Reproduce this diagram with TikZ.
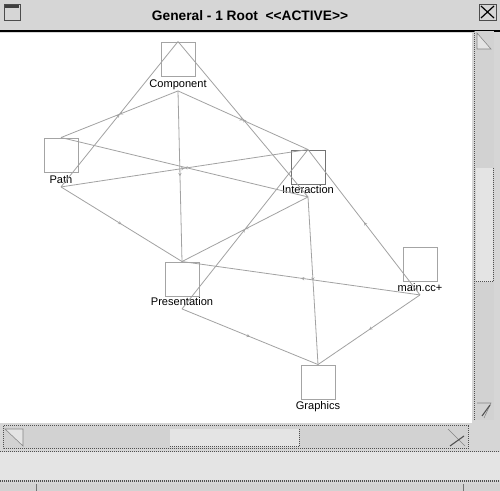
\documentclass[tikz,border=0pt]{standalone}
\usepackage{fontspec}
\setmainfont{Liberation Sans}
\usetikzlibrary{arrows.meta,decorations.markings}
\definecolor{wingray}{HTML}{D6D6D6}
\definecolor{panelgray}{HTML}{E4E4E4}
\definecolor{troughgray}{HTML}{D2D2D2}
\definecolor{boxgray}{HTML}{A4A4A4}
\definecolor{edgegray}{HTML}{A2A2A2}
\definecolor{rimgray}{HTML}{505050}
\tikzset{
  box/.style={draw=boxgray, fill=white, minimum size=25.5pt, inner sep=0pt, line width=0.7pt},
  lbl/.style={font=\fontsize{8.3}{10}\selectfont, inner sep=1pt, text height=6.3pt, text depth=1.7pt},
  call/.style={draw=edgegray, line width=0.6pt, postaction={decorate},
    decoration={markings, mark=at position 0.5 with {\arrow{Stealth[length=2.5pt,width=2.5pt,open]}}}},
  dotrim/.style={draw=rimgray, dash pattern=on 0.75pt off 0.75pt, line width=0.75pt}
}
\begin{document}
\begin{tikzpicture}[x=0.75pt,y=-0.75pt]
\useasboundingbox (0,0) rectangle (500,491);
\fill[wingray] (0,0) rectangle (500,491);

% title bar
\node[font=\bfseries\fontsize{10.3}{12}\selectfont] (title) at (250,16) {General - 1 Root \ <{}<ACTIVE>{}>};
\draw[line width=1pt] (0,31) -- (500,31);
\draw[fill=wingray, draw=black!70] (4,4) rectangle (20,20);
\draw[fill=black!75, draw=none] (5,5) rectangle (19,8);
\draw[draw=black!70] (479,4) rectangle (496,20);
\draw[line width=0.9pt] (481,6) -- (494,18) (494,6) -- (481,18);

% canvas
\fill[white] (0,33) rectangle (472,423);

% vertical scrollbar
\fill[troughgray] (474,31) rectangle (494,420);
\draw[dotrim] (474,31) -- (474,420);
\draw[fill=panelgray, draw=rimgray!70] (477,33) -- (491,49) -- (477,49) -- cycle;
\fill[panelgray] (476,168) rectangle (493,282);
\draw[dotrim] (493,168) -- (493,282) -- (476,282);
\draw[draw=rimgray!70] (477,403) -- (491,403) -- (484,418);
\draw[rimgray, line width=0.8pt] (482,416) -- (490,405);

% horizontal scrollbar
\fill[troughgray] (3,426) rectangle (468,449);
\draw[dotrim] (3,426) rectangle (468,449);
\draw[draw=rimgray!70, fill=panelgray] (5,429) -- (23,429) -- (23,446) -- cycle;
\fill[panelgray] (170,429) rectangle (299,447);
\draw[dotrim] (299,429) -- (299,447) -- (170,447);
\draw[draw=rimgray!70] (448,429) -- (465,446);
\draw[rimgray, line width=0.8pt] (450,446) -- (464,436);

% bottom panel
\fill[panelgray] (0,452) rectangle (500,480);
\draw[dotrim] (0,452) -- (500,452);
\draw[dotrim, line width=1.5pt] (0,481) -- (500,481);
\fill[troughgray] (0,484) rectangle (500,491);
\draw[black!55] (36,484) -- (36,491) (463,484) -- (463,491);

% modules
\node[box] (compB) at (178,59) {};
\node[lbl] (compL) at (178,84) {Component};
\node[box] (pathB) at (61,155) {};
\node[lbl] (pathL) at (61,180) {Path};
\node[box, draw=black!55] (interB) at (308,167) {};
\node[lbl] (interL) at (308,190) {Interaction};
\node[box] (presB) at (182,279) {};
\node[lbl] (presL) at (182,302) {Presentation};
\node[box] (mainB) at (420,264) {};
\node[lbl] (mainL) at (420,288) {main.cc+};
\node[box] (graphB) at (318,382) {};
\node[lbl] (graphL) at (318,406) {Graphics};

% calls
\foreach \from/\to in {pathL/compB, interL/compB, compL/pathB, interL/pathB,
  compL/interB, pathL/interB, presL/interB, mainL/interB,
  compL/presB, pathL/presB, interL/presB, mainL/presB,
  presL/graphB, interL/graphB, mainL/graphB}
  \draw[call] (\from.south) -- (\to.north);
\end{tikzpicture}
\end{document}
